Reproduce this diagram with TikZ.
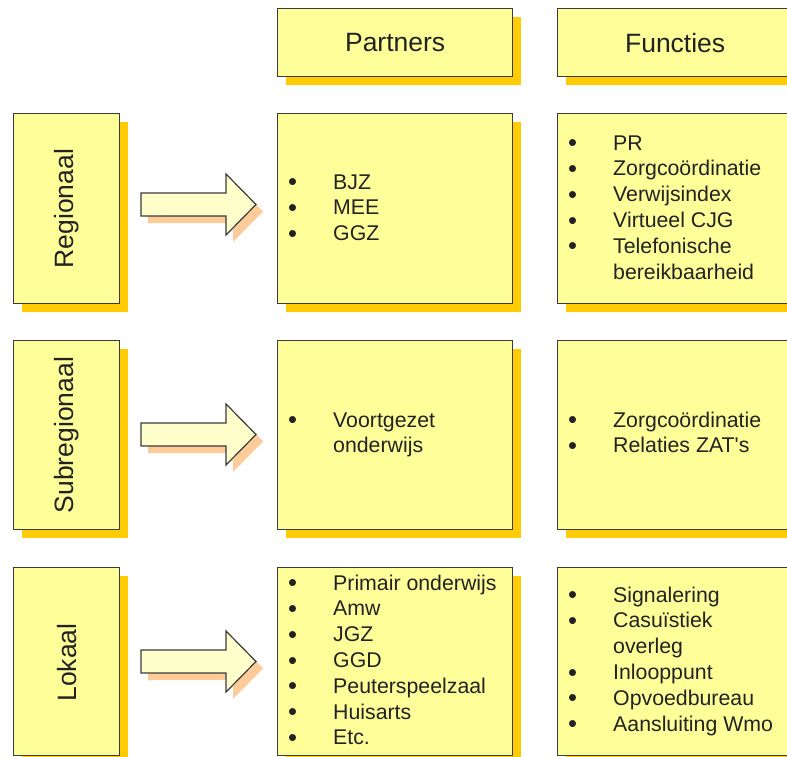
\documentclass[tikz,border=0pt]{standalone}
\usepackage{fontspec}
\setmainfont{Liberation Sans}
\usetikzlibrary{shadows}
\definecolor{boxfill}{HTML}{FFFF99}
\definecolor{boxshadow}{HTML}{FFCC00}
\definecolor{arrowfill}{HTML}{FFFFCC}
\definecolor{arrowshadow}{HTML}{FFCC99}
\definecolor{edgecol}{HTML}{3A3A3A}
\definecolor{txt}{HTML}{222222}
\tikzset{
  panel/.style={rectangle, draw=edgecol, line width=1.3pt, fill=boxfill, inner sep=0pt, anchor=north west,
    drop shadow={shadow xshift=8pt, shadow yshift=-8pt, fill=boxshadow, opacity=1}},
  leftpanel/.style={panel, minimum width=106pt},
  widepanel/.style={panel, minimum width=235pt},
  head/.style={text=txt, font=\fontsize{26.5}{30}\selectfont},
  vlabel/.style={text=txt, rotate=90, font=\fontsize{26.5}{30}\selectfont},
  listtext/.style={text=txt, anchor=base west, inner sep=0pt, font=\fontsize{21.3}{25.8}\selectfont},
  bigarrow/.style={draw=edgecol, line width=1.2pt, fill=arrowfill, line join=miter,
    drop shadow={shadow xshift=7pt, shadow yshift=-7pt, fill=arrowshadow, opacity=1}}
}
\newcommand{\blist}[1]{\begin{tabular}[t]{@{}p{45pt}@{}l@{}}#1\end{tabular}}
\newcommand{\bul}{\raisebox{-1.6pt}{\scalebox{1.2}{\textbullet}}}
\begin{document}
\begin{tikzpicture}[x=1pt, y=-1pt]
\useasboundingbox (0,0) rectangle (787,757);
\clip (0,0) rectangle (787,757);
% headers
\node[widepanel, minimum height=68pt] (hp) at (277,8) {};
\node[widepanel, minimum height=68pt] (hf) at (557,8) {};
\node[head] (hpt) at (hp.center) {Partners};
\node[head] (hft) at (hf.center) {Functies};
% left labels
\node[leftpanel, minimum height=190pt] (l1) at (13,113) {};
\node[leftpanel, minimum height=189pt] (l2) at (13,340) {};
\node[leftpanel, minimum height=188pt] (l3) at (13,567) {};
\node[vlabel] (l1t) at (l1.center) {Regionaal};
\node[vlabel] (l2t) at (l2.center) {Subregionaal};
\node[vlabel] (l3t) at ([yshift=-1pt]l3.center) {Lokaal};
% partner boxes
\node[widepanel, minimum height=190pt] (p1) at (277,113) {};
\node[widepanel, minimum height=189pt] (p2) at (277,340) {};
\node[widepanel, minimum height=188pt] (p3) at (277,567) {};
% functie boxes
\node[widepanel, minimum height=190pt] (f1) at (557,113) {};
\node[widepanel, minimum height=189pt] (f2) at (557,340) {};
\node[widepanel, minimum height=188pt] (f3) at (557,567) {};
% arrows
\coordinate (a1) at (141,204.5);
\coordinate (a2) at (141,434.5);
\coordinate (a3) at (141,661.5);
\foreach \a in {a1,a2,a3}{
  \draw[bigarrow] (\a) ++(0,-11.5) -- ++(85,0) -- ++(0,-19) -- ++(30,30.5) -- ++(-30,30.5) -- ++(0,-19) -- ++(-85,0) -- cycle;
}
% lists
\node[listtext] (p1t) at (288,189) {\blist{\bul & BJZ\\ \bul & MEE\\ \bul & GGZ}};
\node[listtext] (f1t) at (568,150) {\blist{\bul & PR\\ \bul & Zorgcoördinatie\\ \bul & Verwijsindex\\ \bul & Virtueel CJG\\ \bul & Telefonische\\ & bereikbaarheid}};
\node[listtext] (p2t) at (288,427) {\blist{\bul & Voortgezet\\ & onderwijs}};
\node[listtext] (f2t) at (568,427) {\blist{\bul & Zorgcoördinatie\\ \bul & Relaties ZAT\textquotesingle s}};
\node[listtext] (p3t) at (288,590) {\blist{\bul & Primair onderwijs\\ \bul & Amw\\ \bul & JGZ\\ \bul & GGD\\ \bul & Peuterspeelzaal\\ \bul & Huisarts\\ \bul & Etc.}};
\node[listtext] (f3t) at (568,602) {\blist{\bul & Signalering\\ \bul & Casuïstiek\\ & overleg\\ \bul & Inlooppunt\\ \bul & Opvoedbureau\\ \bul & Aansluiting Wmo}};
\end{tikzpicture}
\end{document}
